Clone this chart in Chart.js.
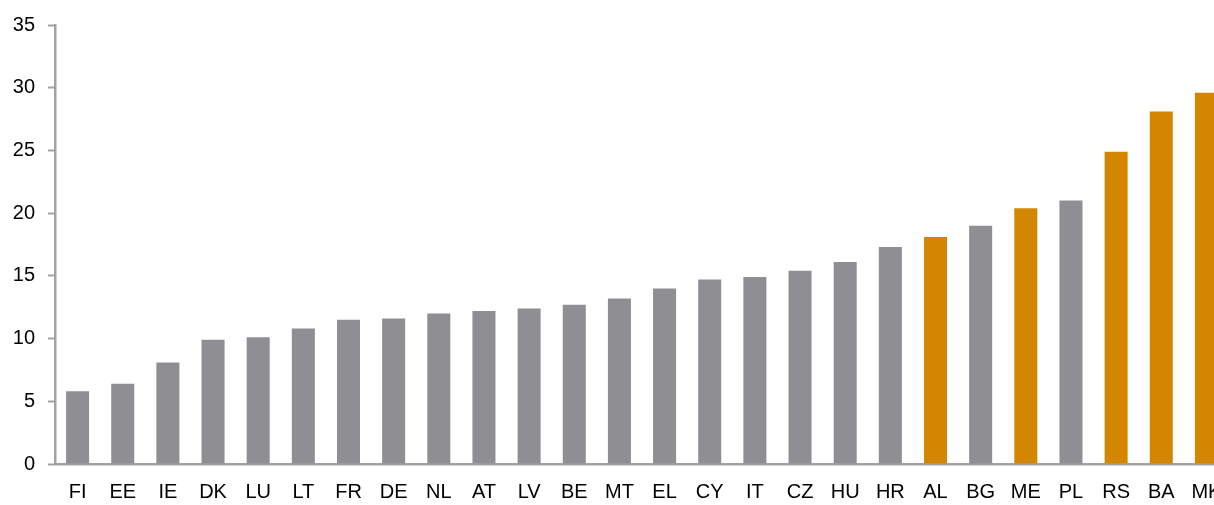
<!DOCTYPE html>
<html>
<head>
<meta charset="utf-8">
<script src="https://cdn.jsdelivr.net/npm/chart.js@4/dist/chart.umd.min.js"></script>
<style>
  html, body { margin: 0; padding: 0; background: #fff; overflow: hidden; }
  #barChart { display: block; }
</style>
</head>
<body>
<canvas id="barChart" width="1214" height="505"></canvas>
<script>
'use strict';

// ---- data ----
const countries = ['FI', 'EE', 'IE', 'DK', 'LU', 'LT', 'FR', 'DE', 'NL', 'AT', 'LV', 'BE', 'MT',
                   'EL', 'CY', 'IT', 'CZ', 'HU', 'HR', 'AL', 'BG', 'ME', 'PL', 'RS', 'BA', 'MK'];
const values    = [5.8, 6.4, 8.1, 9.9, 10.1, 10.8, 11.5, 11.6, 12.0, 12.2, 12.4, 12.7, 13.2,
                   14.0, 14.7, 14.9, 15.4, 16.1, 17.3, 18.1, 19.0, 20.4, 21.0, 24.9, 28.1, 29.6];
const highlighted = ['AL', 'ME', 'RS', 'BA', 'MK'];
const yTicks    = [0, 5, 10, 15, 20, 25, 30, 35];

const GREY   = '#8f8e93';
const ORANGE = '#d38700';
const AXIS   = '#a3a3a3';
const FONT   = { family: '"Liberation Sans", Arial, sans-serif', size: 20 };
const OVERHANG = 15; // px the plot runs past the right edge, so the last bar is cut

const barColors = countries.map(c => highlighted.includes(c) ? ORANGE : GREY);

// stretch the x scale and chart area past the canvas edge after layout
const overhang = {
  id: 'overhang',
  afterLayout(chart) {
    const x = chart.scales.x;
    const right = chart.width + OVERHANG;
    x.right = right;
    x.width = right - x.left;
    chart.chartArea.right = right;
    chart.chartArea.width = right - chart.chartArea.left;
    x.configure();
  }
};

new Chart(document.getElementById('barChart'), {
  type: 'bar',
  data: {
    labels: countries,
    datasets: [{
      data: values,
      backgroundColor: barColors,
      borderWidth: 0,
      categoryPercentage: 1,
      barPercentage: 0.51,
    }]
  },
  options: {
    responsive: false, animation: false,
    layout: { padding: { top: 21, left: 0, right: 0, bottom: 0 } },
    plugins: { legend: { display: false }, tooltip: { enabled: false } },
    scales: {
      x: {
        grid: { display: false, drawTicks: false },
        border: { color: AXIS, width: 2.5 },
        ticks: { color: '#000', font: FONT, padding: 16, maxRotation: 0, autoSkip: false },
        afterFit: s => { s.height = 41; },
      },
      y: {
        min: 0, max: 35,
        afterBuildTicks: s => { s.ticks = yTicks.map(v => ({ value: v })); },
        grid: { display: true, drawOnChartArea: false, drawTicks: true, tickLength: 7, tickColor: AXIS, tickWidth: 2 },
        border: { color: AXIS, width: 2.5 },
        ticks: { color: '#000', font: FONT, padding: 13 },
        afterFit: s => { s.width = 55; },
      }
    }
  },
  plugins: [overhang]
});
</script>
</body>
</html>
